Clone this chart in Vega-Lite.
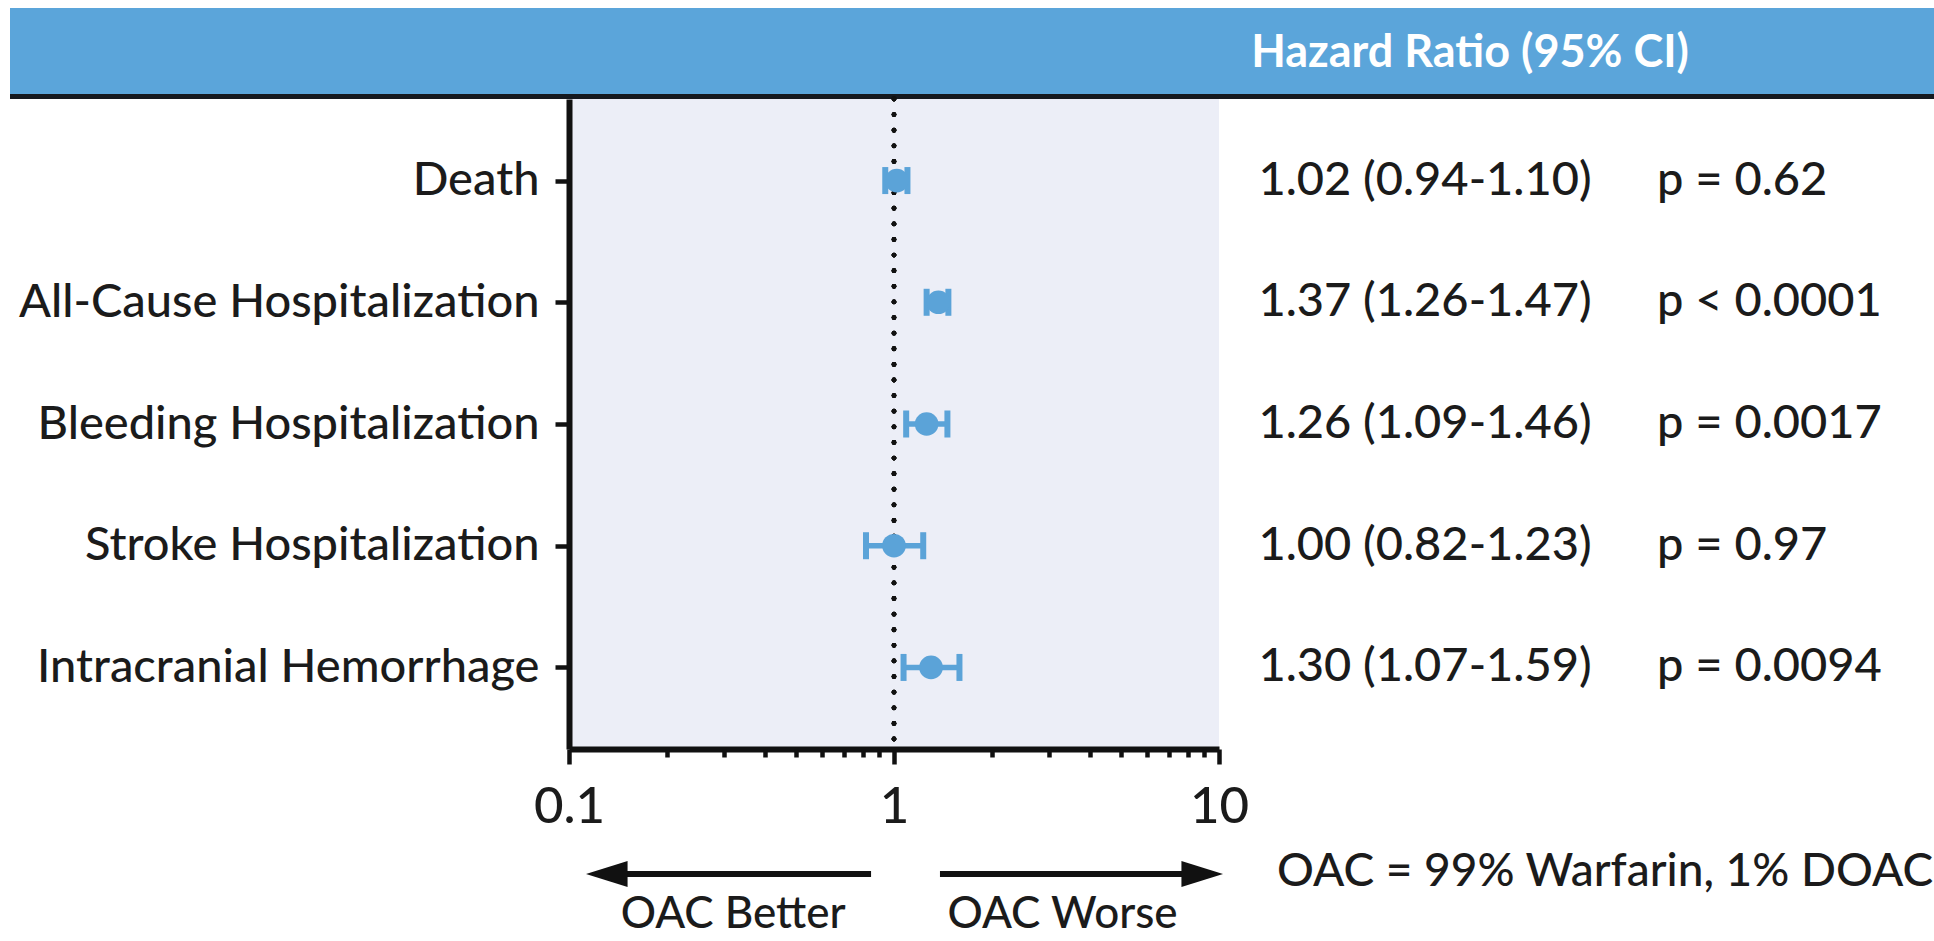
{
  "$schema": "https://vega.github.io/schema/vega-lite/v6.json",
  "width": 650,
  "height": 650,
  "autosize": {"type": "none"},
  "padding": {"left": 569, "top": 99, "right": 715, "bottom": 192},
  "background": "white",
  "config": {
    "view": {"fill": "#ECEEF7", "stroke": null},
    "font": "Lato",
    "text": {"font": "Lato", "color": "#1b1b1b", "fontWeight": 500}
  },
  "datasets": {
    "outcomes": [
      {"outcome": "Death", "hr": 1.02, "lo": 0.94, "hi": 1.10, "hr_text": "1.02 (0.94-1.10)", "p_text": "p = 0.62"},
      {"outcome": "All-Cause Hospitalization", "hr": 1.37, "lo": 1.26, "hi": 1.47, "hr_text": "1.37 (1.26-1.47)", "p_text": "p < 0.0001"},
      {"outcome": "Bleeding Hospitalization", "hr": 1.26, "lo": 1.09, "hi": 1.46, "hr_text": "1.26 (1.09-1.46)", "p_text": "p = 0.0017"},
      {"outcome": "Stroke Hospitalization", "hr": 1.00, "lo": 0.82, "hi": 1.23, "hr_text": "1.00 (0.82-1.23)", "p_text": "p = 0.97"},
      {"outcome": "Intracranial Hemorrhage", "hr": 1.30, "lo": 1.07, "hi": 1.59, "hr_text": "1.30 (1.07-1.59)", "p_text": "p = 0.0094"}
    ]
  },
  "data": {"name": "outcomes"},
  "resolve": {"axis": {"x": "independent"}},
  "layer": [
    {
      "data": {"values": [{"label": "Hazard Ratio (95% CI)"}]},
      "mark": {"type": "rect", "color": "#5BA5DA", "x": -559, "x2": 1365, "y": -91, "y2": -5},
      "encoding": {}
    },
    {
      "data": {"values": [{"label": "Hazard Ratio (95% CI)"}]},
      "mark": {"type": "rect", "color": "#15191f", "x": -559, "x2": 1365, "y": -5, "y2": 0},
      "encoding": {}
    },
    {
      "data": {"values": [{"label": "Hazard Ratio (95% CI)"}]},
      "mark": {"type": "text", "x": 901, "y": -46, "align": "center", "baseline": "middle", "fontSize": 45, "fontWeight": "bold", "color": "white"},
      "encoding": {"text": {"field": "label"}}
    },
    {
      "mark": {"type": "rule", "color": "#111", "strokeWidth": 4.8, "strokeDash": [0.01, 15.6], "strokeCap": "round"},
      "encoding": {"x": {"datum": 1, "type": "quantitative", "axis": null}}
    },
    {
      "mark": {"type": "rule", "color": "#5BA3D8", "strokeWidth": 5.5},
      "encoding": {
        "y": {
          "field": "outcome", "type": "nominal", "sort": null,
          "scale": {"type": "point", "padding": 0.67},
          "axis": {
            "title": null, "domainColor": "#111", "domainWidth": 6, "tickColor": "#111",
            "tickWidth": 4.5, "tickSize": 14, "labelFontSize": 47, "labelColor": "#1b1b1b",
            "labelPadding": 16, "labelLimit": 1000, "labelFont": "Lato", "labelFontWeight": 500
          }
        },
        "x": {
          "field": "lo", "type": "quantitative",
          "scale": {"type": "log", "domain": [0.1, 10], "nice": false},
          "axis": {
            "orient": "bottom",
            "values": [0.1, 1, 10], "format": "~g", "title": null, "grid": false,
            "domainColor": "#111", "domainWidth": 6, "tickColor": "#111", "tickWidth": 4.5,
            "tickSize": 15, "labelFontSize": 51, "labelColor": "#1b1b1b", "labelPadding": 18,
            "labelFlush": false, "labelOverlap": false, "labelFont": "Lato", "labelFontWeight": 500
          }
        },
        "x2": {"field": "hi"}
      }
    },
    {
      "transform": [{"fold": ["lo", "hi"], "as": ["end", "bound"]}],
      "mark": {"type": "tick", "orient": "vertical", "color": "#5BA3D8", "thickness": 6, "size": 27, "opacity": 1},
      "encoding": {
        "y": {"field": "outcome", "type": "nominal", "sort": null},
        "x": {
          "field": "bound", "type": "quantitative",
          "axis": {
            "orient": "bottom",
            "values": [0.2, 0.3, 0.4, 0.5, 0.6, 0.7, 0.8, 0.9, 2, 3, 4, 5, 6, 7, 8, 9],
            "labels": false, "domain": false, "grid": false, "title": null,
            "tickColor": "#111", "tickWidth": 4.5, "tickSize": 8
          }
        }
      }
    },
    {
      "mark": {"type": "point", "shape": "circle", "filled": true, "color": "#5BA3D8", "size": 560, "opacity": 1},
      "encoding": {
        "y": {"field": "outcome", "type": "nominal", "sort": null},
        "x": {"field": "hr", "type": "quantitative", "axis": null}
      }
    },
    {
      "mark": {"type": "text", "x": 856, "align": "center", "baseline": "middle", "fontSize": 47},
      "encoding": {
        "y": {"field": "outcome", "type": "nominal", "sort": null},
        "text": {"field": "hr_text"}
      }
    },
    {
      "mark": {"type": "text", "x": 1088, "align": "left", "baseline": "middle", "fontSize": 47},
      "encoding": {
        "y": {"field": "outcome", "type": "nominal", "sort": null},
        "text": {"field": "p_text"}
      }
    },
    {
      "data": {"values": [{"from": 0.1307, "to": 0.85}, {"from": 1.385, "to": 8.88}]},
      "mark": {"type": "rule", "color": "#111", "strokeWidth": 6, "y": 775},
      "encoding": {
        "x": {"field": "from", "type": "quantitative", "axis": null},
        "x2": {"field": "to"}
      }
    },
    {
      "data": {"values": [{"tip": 0.1307, "dir": "left"}]},
      "mark": {"type": "point", "shape": "M1.6,-1L-1.6,0L1.6,1Z", "filled": true, "color": "#111", "size": 676, "opacity": 1, "y": 775},
      "encoding": {"x": {"field": "tip", "type": "quantitative", "axis": null}}
    },
    {
      "data": {"values": [{"tip": 8.88, "dir": "right"}]},
      "mark": {"type": "point", "shape": "M-1.6,-1L1.6,0L-1.6,1Z", "filled": true, "color": "#111", "size": 676, "opacity": 1, "y": 775},
      "encoding": {"x": {"field": "tip", "type": "quantitative", "axis": null}}
    },
    {
      "data": {"values": [{"at": 0.32, "label": "OAC Better"}, {"at": 3.3, "label": "OAC Worse"}]},
      "mark": {"type": "text", "y": 816, "align": "center", "baseline": "middle", "fontSize": 44},
      "encoding": {
        "x": {"field": "at", "type": "quantitative", "axis": null},
        "text": {"field": "label"}
      }
    },
    {
      "data": {"values": [{"label": "OAC = 99% Warfarin, 1% DOAC"}]},
      "mark": {"type": "text", "x": 708, "y": 773, "align": "left", "baseline": "middle", "fontSize": 46},
      "encoding": {"text": {"field": "label"}}
    }
  ]
}
